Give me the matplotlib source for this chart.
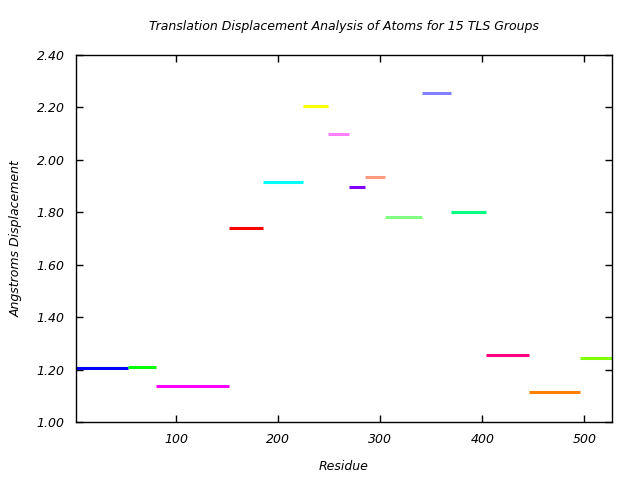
import matplotlib
matplotlib.use("Agg")
import matplotlib.pyplot as plt

# TLS groups: residue ranges and mean translation displacement
starts = [2, 53, 80, 152, 185, 224, 249, 269, 285, 305, 341, 369, 404, 446, 496]
ends = [53, 80, 152, 185, 224, 249, 269, 285, 305, 341, 369, 404, 446, 496, 527]
displacement = [1.205, 1.21, 1.137, 1.739, 1.914, 2.203, 2.097, 1.895,
                1.933, 1.781, 2.253, 1.800, 1.255, 1.114, 1.244]
colors = ['#0000ff', '#00ff00', '#ff00ff', '#ff0000', '#00ffff',
          '#ffff00', '#ff80ff', '#8000ff', '#ff9980', '#80ff80',
          '#8080ff', '#00ff80', '#ff0080', '#ff8000', '#80ff00']

y_ticks = [1.00, 1.20, 1.40, 1.60, 1.80, 2.00, 2.20, 2.40]
x_ticks = [100, 200, 300, 400, 500]

plt.rcParams['font.family'] = 'DejaVu Sans'
plt.rcParams['font.style'] = 'italic'

fig = plt.figure(figsize=(6.4, 4.8), dpi=100)
ax = fig.add_axes([76/640, 1-422.3/480, 536/640, 367.6/480])

for s, e, d, c in zip(starts, ends, displacement, colors):
    ax.plot([s, e], [d, d], color=c, linewidth=2.2, solid_capstyle='butt')

ax.set_xlim(2, 527)
ax.set_ylim(1.0, 2.4)
ax.set_xticks(x_ticks)
ax.set_yticks(y_ticks)
ax.set_yticklabels(['%.2f' % v for v in y_ticks])
ax.tick_params(direction='in', length=5, width=1, top=True, right=True,
               labelsize=9, pad=8)
for sp in ax.spines.values():
    sp.set_linewidth(1)

ax.set_xlabel('Residue', fontsize=9, labelpad=10)
ax.set_ylabel('Angstroms Displacement', fontsize=9, labelpad=10)
ax.set_title('Translation Displacement Analysis of Atoms for 15 TLS Groups',
             fontsize=9, pad=18)

fig.savefig('out.png', dpi=100)
